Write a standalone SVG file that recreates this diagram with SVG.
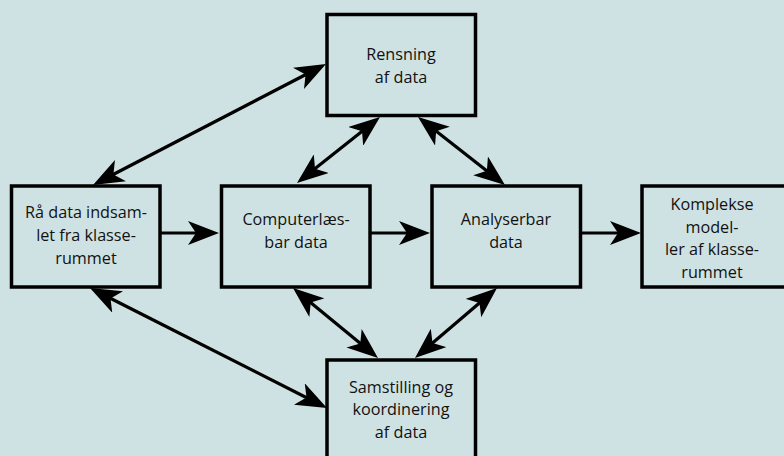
<svg xmlns="http://www.w3.org/2000/svg" width="784" height="456" viewBox="0 0 784 456">
<defs>
<style>
.box{fill:#cfe2e3;stroke:#000;stroke-width:3.5}
.lbl{font-family:"Open Sans","Noto Sans","Liberation Sans",sans-serif;font-size:16.2px;fill:#111;text-anchor:middle}
.con{stroke:#000;stroke-width:3.2;fill:none}
</style>
<marker id="ah" markerUnits="userSpaceOnUse" viewBox="0 0 31 24" markerWidth="31" markerHeight="24" refX="11" refY="12" orient="auto-start-reverse">
<path d="M31,12 L0,0 L8,12 L0,24 Z" fill="#000"/>
</marker>
</defs>
<rect width="784" height="456" fill="#cfe2e3"/>
<g id="connectors">
<line class="con" x1="160" y1="233" x2="199" y2="233" marker-end="url(#ah)"/>
<line class="con" x1="370" y1="233" x2="410" y2="233" marker-end="url(#ah)"/>
<line class="con" x1="580" y1="233" x2="621" y2="233" marker-end="url(#ah)"/>
<line class="con" x1="110.75" y1="175.78" x2="308.25" y2="73.22" marker-start="url(#ah)" marker-end="url(#ah)"/>
<line class="con" x1="312.65" y1="170.55" x2="364.35" y2="129.45" marker-start="url(#ah)" marker-end="url(#ah)"/>
<line class="con" x1="433.76" y1="129.32" x2="489.24" y2="172.68" marker-start="url(#ah)" marker-end="url(#ah)"/>
<line class="con" x1="107.84" y1="297.03" x2="309.16" y2="398.97" marker-start="url(#ah)" marker-end="url(#ah)"/>
<line class="con" x1="308.44" y1="300.71" x2="362.56" y2="345.29" marker-start="url(#ah)" marker-end="url(#ah)"/>
<line class="con" x1="481.79" y1="300.99" x2="430.21" y2="345.01" marker-start="url(#ah)" marker-end="url(#ah)"/>
</g>
<g id="raa-data">
<rect class="box" x="11.5" y="186" width="148.5" height="101"/>
<text class="lbl" x="86" y="218">Rå data indsam-</text>
<text class="lbl" x="86" y="241">let fra klasse-</text>
<text class="lbl" x="86" y="264">rummet</text>
</g>
<g id="computerlaesbar">
<rect class="box" x="221.5" y="186" width="148.5" height="101"/>
<text class="lbl" x="296" y="225">Computerlæs-</text>
<text class="lbl" x="296" y="248">bar data</text>
</g>
<g id="analyserbar">
<rect class="box" x="432" y="186" width="148.5" height="101"/>
<text class="lbl" x="506" y="225">Analyserbar</text>
<text class="lbl" x="506" y="248">data</text>
</g>
<g id="komplekse">
<rect class="box" x="642" y="186" width="150" height="101"/>
<text class="lbl" x="712" y="210">Komplekse</text>
<text class="lbl" x="712" y="233">model-</text>
<text class="lbl" x="712" y="255">ler af klasse-</text>
<text class="lbl" x="712" y="278">rummet</text>
</g>
<g id="rensning">
<rect class="box" x="327" y="14.5" width="148.5" height="101"/>
<text class="lbl" x="401" y="60">Rensning</text>
<text class="lbl" x="401" y="83">af data</text>
</g>
<g id="samstilling">
<rect class="box" x="327" y="360" width="148.5" height="110"/>
<text class="lbl" x="401" y="393">Samstilling og</text>
<text class="lbl" x="401" y="415">koordinering</text>
<text class="lbl" x="401" y="438">af data</text>
</g>
</svg>
